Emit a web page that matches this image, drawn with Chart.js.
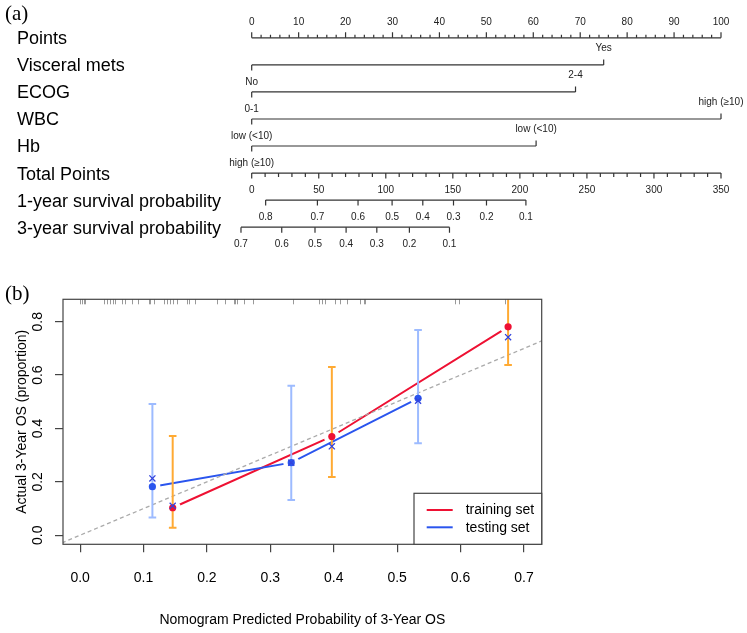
<!DOCTYPE html>
<html>
<head>
<meta charset="utf-8">
<script src="https://cdn.jsdelivr.net/npm/chart.js@4.4.1/dist/chart.umd.min.js"></script>
<style>
  html, body { margin: 0; padding: 0; background: #fff; }
  #wrap { position: relative; width: 747px; height: 633px; overflow: hidden; }
  #nomo { position: absolute; left: 0; top: 0; }
  #calib { position: absolute; left: 0; top: 280px; }
</style>
</head>
<body>
<div id="wrap">
  <canvas id="nomo" width="747" height="265"></canvas>
  <canvas id="calib" width="747" height="353"></canvas>
</div>
<script>
// ---- (a) nomogram ----
var rowNames = ['Points', 'Visceral mets', 'ECOG', 'WBC', 'Hb', 'Total Points',
                '1-year survival probability', '3-year survival probability'];
var pointTicks = [0, 10, 20, 30, 40, 50, 60, 70, 80, 90, 100];
var visceralLevels = ['No', 'Yes'];
var visceralPoints = [0, 75];
var ecogLevels = ['0-1', '2-4'];
var ecogPoints = [0, 69];
var wbcLevels = ['low (<10)', 'high (\u226510)'];
var wbcPoints = [0, 100];
var hbLevels = ['high (\u226510)', 'low (<10)'];
var hbPoints = [0, 60.6];
var totalTicks = [0, 50, 100, 150, 200, 250, 300, 350];
var surv1Labels = ['0.8', '0.7', '0.6', '0.5', '0.4', '0.3', '0.2', '0.1'];
var surv1Total = [10.4, 49.0, 79.3, 104.7, 127.6, 150.5, 175.1, 204.5];
var surv3Labels = ['0.7', '0.6', '0.5', '0.4', '0.3', '0.2', '0.1'];
var surv3Total = [-8.0, 22.4, 47.2, 70.4, 93.3, 117.6, 147.5];

// ---- (b) calibration ----
var xTicks = [0, 0.1, 0.2, 0.3, 0.4, 0.5, 0.6, 0.7];
var yTicks = [0, 0.2, 0.4, 0.6, 0.8];
var trainPred = [0.146, 0.397, 0.675];
var trainObs  = [0.103, 0.370, 0.781];
var trainCorr = [0.110, 0.333, 0.742];
var trainLo   = [0.028, 0.218, 0.638];
var trainHi   = [0.372, 0.630, 0.930];
var testPred  = [0.114, 0.333, 0.533];
var testObs   = [0.182, 0.272, 0.513];
var testCorr  = [0.213, 0.272, 0.504];
var testLo    = [0.066, 0.132, 0.345];
var testHi    = [0.492, 0.560, 0.769];
var rugX = [0.000, 0.003, 0.006, 0.008, 0.037, 0.042, 0.047, 0.052, 0.055, 0.066, 0.071,
            0.082, 0.092, 0.108, 0.111, 0.116, 0.132, 0.137, 0.142, 0.147, 0.153, 0.168,
            0.171, 0.181, 0.216, 0.229, 0.242, 0.244, 0.247, 0.258, 0.273, 0.336, 0.376,
            0.381, 0.386, 0.402, 0.410, 0.421, 0.442, 0.447, 0.450, 0.591, 0.598, 0.670, 0.675];

Chart.defaults.font.family = '"Liberation Sans", Arial, sans-serif';
Chart.defaults.color = '#000';

var maxPoints = 100, maxTotal = 350;
var ptScale = maxTotal / maxPoints;
var lineCol = '#333';

var variables = [
  {row: 1, levels: visceralLevels, points: visceralPoints},
  {row: 2, levels: ecogLevels, points: ecogPoints},
  {row: 3, levels: wbcLevels, points: wbcPoints},
  {row: 4, levels: hbLevels, points: hbPoints}
];

function rowLine(x0, x1, row) {
  return {
    type: 'line', data: [{x: x0, y: row}, {x: x1, y: row}],
    borderColor: lineCol, borderWidth: 1.2, pointRadius: 0, clip: false
  };
}

var nomoSets = [rowLine(0, maxPoints * ptScale, 0)];
variables.forEach(function(v) {
  nomoSets.push(rowLine(Math.min.apply(null, v.points) * ptScale, Math.max.apply(null, v.points) * ptScale, v.row));
});
nomoSets.push(rowLine(0, maxTotal, 5));
nomoSets.push(rowLine(surv1Total[0], surv1Total[surv1Total.length - 1], 6));
nomoSets.push(rowLine(surv3Total[0], surv3Total[surv3Total.length - 1], 7));

var nomoAxes = {
  id: 'nomoAxes',
  afterDatasetsDraw: function(chart) {
    var ctx = chart.ctx, xs = chart.scales.x, ys = chart.scales.y;
    function X(v) { return xs.getPixelForValue(v); }
    function Y(r) { return ys.getPixelForValue(r); }
    ctx.save();
    ctx.strokeStyle = lineCol;
    ctx.lineWidth = 1.2;
    ctx.fillStyle = '#222';
    ctx.font = '10px "Liberation Sans", Arial, sans-serif';
    ctx.textAlign = 'center';
    ctx.textBaseline = 'middle';
    ctx.beginPath();
    // points axis, ticks up
    for (var p = 0; p <= maxPoints; p += 2) {
      ctx.moveTo(X(p * ptScale), Y(0));
      ctx.lineTo(X(p * ptScale), Y(0) - (p % 10 === 0 ? 5.5 : 3));
    }
    // variables
    variables.forEach(function(v) {
      v.points.forEach(function(pt, i) {
        var up = i % 2 === 1;
        ctx.moveTo(X(pt * ptScale), Y(v.row));
        ctx.lineTo(X(pt * ptScale), Y(v.row) + (up ? -5.5 : 5.5));
      });
    });
    // total points, ticks down
    for (var t = 0; t <= maxTotal; t += 10) {
      ctx.moveTo(X(t), Y(5));
      ctx.lineTo(X(t), Y(5) + (t % 50 === 0 ? 5.5 : 4));
    }
    surv1Total.forEach(function(t) { ctx.moveTo(X(t), Y(6)); ctx.lineTo(X(t), Y(6) + 5.5); });
    surv3Total.forEach(function(t) { ctx.moveTo(X(t), Y(7)); ctx.lineTo(X(t), Y(7) + 5.5); });
    ctx.stroke();

    pointTicks.forEach(function(p) { ctx.fillText(String(p), X(p * ptScale), Y(0) - 16); });
    variables.forEach(function(v) {
      v.points.forEach(function(pt, i) {
        var up = i % 2 === 1;
        ctx.fillText(v.levels[i], X(pt * ptScale), Y(v.row) + (up ? -16.5 : 17));
      });
    });
    totalTicks.forEach(function(t) { ctx.fillText(String(t), X(t), Y(5) + 17); });
    surv1Total.forEach(function(t, i) { ctx.fillText(surv1Labels[i], X(t), Y(6) + 17); });
    surv3Total.forEach(function(t, i) { ctx.fillText(surv3Labels[i], X(t), Y(7) + 17); });

    ctx.fillStyle = '#000';
    ctx.font = '21px "Liberation Serif", "Times New Roman", serif';
    ctx.textAlign = 'left';
    ctx.fillText('(a)', 5, 14);
    ctx.restore();
  }
};

new Chart(document.getElementById('nomo'), {
  type: 'scatter',
  data: {datasets: nomoSets},
  options: {
    responsive: false, animation: false, events: [],
    layout: {padding: {left: 17, right: 26, top: 8.6, bottom: 3.6}},
    plugins: {legend: {display: false}, tooltip: {enabled: false}},
    scales: {
      x: {type: 'linear', display: false, min: -10, max: maxTotal},
      y: {
        type: 'linear', reverse: true, min: -1, max: 8,
        afterBuildTicks: function(s) { s.ticks = rowNames.map(function(n, i) { return {value: i}; }); },
        afterFit: function(s) { s.width = 221.3; },
        grid: {display: false}, border: {display: false},
        ticks: {crossAlign: 'far', padding: 0, labelOffset: 1.5, font: {size: 18}, color: '#000',
                callback: function(v) { return rowNames[v]; }}
      }
    }
  },
  plugins: [nomoAxes]
});

// ---- calibration chart ----
var red = '#EE1133', blue = '#2A55EE', orange = '#FFAA33', lightBlue = '#9DBBFF', xBlue = '#3344DD';

function pairs(xa, ya) { return xa.map(function(x, i) { return {x: x, y: ya[i]}; }); }

var calSets = [
  {label: 'training set', data: pairs(trainPred, trainObs), showLine: true, gap: true,
   borderColor: red, borderWidth: 2, pointRadius: 0, order: 6},
  {label: 'testing set', data: pairs(testPred, testObs), showLine: true, gap: true,
   borderColor: blue, borderWidth: 2, pointRadius: 0, order: 5},
  {data: [{x: -0.1, y: -0.1}, {x: 1, y: 1}], showLine: true, borderColor: '#AAAAAA',
   borderWidth: 1.3, borderDash: [4, 3], pointRadius: 0, order: 4}
];
trainPred.forEach(function(x, i) {
  calSets.push({data: [{x: x, y: trainLo[i]}, {x: x, y: trainHi[i]}], showLine: true,
    borderColor: orange, borderWidth: 2, pointStyle: 'line', pointRadius: 3.8,
    pointBorderColor: orange, pointBorderWidth: 2, order: 3});
});
testPred.forEach(function(x, i) {
  calSets.push({data: [{x: x, y: testLo[i]}, {x: x, y: testHi[i]}], showLine: true,
    borderColor: lightBlue, borderWidth: 2, pointStyle: 'line', pointRadius: 3.8,
    pointBorderColor: lightBlue, pointBorderWidth: 2, order: 3});
});
calSets.push({data: pairs(trainPred, trainObs), pointRadius: 3.6, pointBackgroundColor: red,
  pointBorderColor: red, pointBorderWidth: 0, order: 2});
calSets.push({data: pairs(testPred, testObs), pointRadius: 3.6, pointBackgroundColor: blue,
  pointBorderColor: blue, pointBorderWidth: 0, order: 2});
calSets.push({data: pairs(trainPred, trainCorr).concat(pairs(testPred, testCorr)),
  pointStyle: 'crossRot', pointRadius: 4.3, pointBorderColor: xBlue, pointBorderWidth: 1.3, order: 1});

var gapPlugin = {
  id: 'gapPlugin',
  beforeDatasetDraw: function(chart, args) {
    var ds = chart.data.datasets[args.index];
    if (!ds.gap) return;
    var ctx = chart.ctx;
    ctx.save();
    ctx.beginPath();
    ctx.rect(0, 0, chart.width, chart.height);
    args.meta.data.forEach(function(pt) {
      ctx.moveTo(pt.x + 8, pt.y);
      ctx.arc(pt.x, pt.y, 8, 0, Math.PI * 2);
    });
    ctx.clip('evenodd');
  },
  afterDatasetDraw: function(chart, args) {
    if (chart.data.datasets[args.index].gap) chart.ctx.restore();
  }
};

var calDecor = {
  id: 'calDecor',
  beforeDatasetsDraw: function(chart) {
    var ctx = chart.ctx, ca = chart.chartArea, xs = chart.scales.x;
    ctx.save();
    ctx.strokeStyle = '#999';
    ctx.lineWidth = 1;
    ctx.beginPath();
    rugX.forEach(function(v) {
      var px = Math.round(xs.getPixelForValue(v)) + 0.5;
      ctx.moveTo(px, ca.top);
      ctx.lineTo(px, ca.top + 5);
    });
    ctx.stroke();
    ctx.restore();
  },
  afterDraw: function(chart) {
    var ctx = chart.ctx, ca = chart.chartArea;
    ctx.save();
    ctx.strokeStyle = '#444';
    ctx.lineWidth = 1.2;
    ctx.strokeRect(ca.left, ca.top, ca.right - ca.left, ca.bottom - ca.top);
    // legend, bottom right
    var bx = ca.right - 127.7, by = ca.bottom - 51;
    ctx.fillStyle = '#fff';
    ctx.fillRect(bx, by, ca.right - bx, ca.bottom - by);
    ctx.strokeRect(bx, by, ca.right - bx, ca.bottom - by);
    ctx.font = '14px "Liberation Sans", Arial, sans-serif';
    ctx.textAlign = 'left';
    ctx.textBaseline = 'middle';
    [0, 1].forEach(function(i) {
      var ds = chart.data.datasets[i];
      var ly = by + 16.7 + i * 17.3;
      ctx.strokeStyle = ds.borderColor;
      ctx.lineWidth = 2;
      ctx.beginPath();
      ctx.moveTo(bx + 12.7, ly);
      ctx.lineTo(bx + 38.7, ly);
      ctx.stroke();
      ctx.fillStyle = '#000';
      ctx.fillText(ds.label, bx + 51.7, ly + 0.5);
    });
    ctx.font = '21px "Liberation Serif", "Times New Roman", serif';
    ctx.fillText('(b)', 5, 14);
    ctx.restore();
  }
};

var axisGrid = {drawOnChartArea: false, drawTicks: true, tickLength: 8, tickColor: '#444', lineWidth: 1.2};

new Chart(document.getElementById('calib'), {
  type: 'scatter',
  data: {datasets: calSets},
  options: {
    responsive: false, animation: false, events: [],
    layout: {padding: {left: 0, right: 205.3, top: 19.3, bottom: 0}},
    plugins: {legend: {display: false}, tooltip: {enabled: false}},
    scales: {
      x: {
        type: 'linear', min: -0.027, max: 0.728,
        afterBuildTicks: function(s) { s.ticks = xTicks.map(function(v) { return {value: v}; }); },
        afterFit: function(s) { s.height = 88.7; },
        grid: axisGrid, border: {display: false},
        ticks: {padding: 17, autoSkip: false, maxRotation: 0, font: {size: 14}, color: '#000',
                callback: function(v) { return v.toFixed(1); }},
        title: {display: true, text: 'Nomogram Predicted Probability of 3-Year OS', color: '#000',
                font: {size: 14}, padding: {top: 0, bottom: 4.6}}
      },
      y: {
        type: 'linear', min: -0.034, max: 0.884,
        afterBuildTicks: function(s) { s.ticks = yTicks.map(function(v) { return {value: v}; }); },
        afterFit: function(s) { s.width = 63; },
        grid: axisGrid, border: {display: false},
        ticks: {padding: 7, autoSkip: false, minRotation: 90, maxRotation: 90, crossAlign: 'center',
                font: {size: 14}, color: '#000', callback: function(v) { return v.toFixed(1); }},
        title: {display: true, text: 'Actual 3-Year OS (proportion)', color: '#000',
                font: {size: 14}, padding: {top: 13.3, bottom: 0}}
      }
    }
  },
  plugins: [gapPlugin, calDecor]
});
</script>
</body>
</html>
